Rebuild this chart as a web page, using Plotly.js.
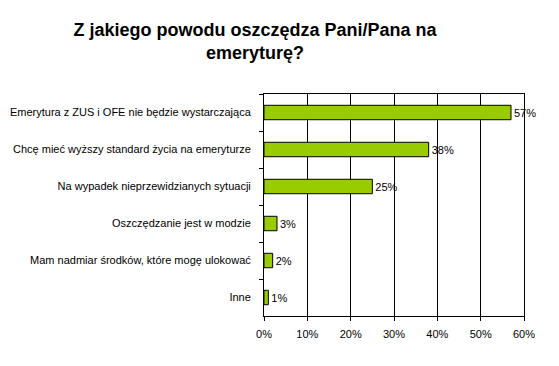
<!DOCTYPE html>
<html>
<head>
<meta charset="utf-8">
<script src="https://cdn.plot.ly/plotly-3.0.1.min.js"></script>
<style>html,body{margin:0;padding:0;background:#fff;}#chart{width:559px;height:366px;}</style>
</head>
<body>
<div id="chart"></div>
<script>
const categories = [
  "Emerytura z ZUS i OFE nie będzie wystarczająca",
  "Chcę mieć wyższy standard życia na emeryturze",
  "Na wypadek nieprzewidzianych sytuacji",
  "Oszczędzanie jest w modzie",
  "Mam nadmiar środków, które mogę ulokować",
  "Inne"
];
const values = [57, 38, 25, 3, 2, 1];
const valueLabels = ["57%", "38%", "25%", "3%", "2%", "1%"];
const xTickVals = [0, 10, 20, 30, 40, 50, 60];
const xTickText = ["0%", "10%", "20%", "30%", "40%", "50%", "60%"];

const trace = {
  type: "bar",
  orientation: "h",
  x: values,
  y: categories,
  text: valueLabels,
  textposition: "outside",
  cliponaxis: false,
  textfont: {family: "Liberation Sans, Arial, sans-serif", size: 11, color: "#000"},
  marker: {color: "#99cc00", line: {color: "#000", width: 1}},
  hoverinfo: "none"
};

const layout = {
  width: 559,
  height: 366,
  margin: {l: 264, r: 35, t: 94, b: 50},
  paper_bgcolor: "#fff",
  plot_bgcolor: "#fff",
  showlegend: false,
  bargap: 0.61,
  font: {family: "Liberation Sans, Arial, sans-serif", size: 11, color: "#000"},
  title: {
    text: "Z jakiego powodu oszczędza Pani/Pana na<br>emeryturę?",
    font: {family: "Liberation Sans, Arial, sans-serif", size: 18, color: "#000", weight: "bold"},
    xref: "container", x: 255/559, xanchor: "center",
    yref: "container", y: 1 - 36/366, yanchor: "top"
  },
  xaxis: {
    range: [0, 60],
    tickvals: xTickVals,
    ticktext: xTickText,
    showgrid: true,
    gridcolor: "#000",
    gridwidth: 1,
    showline: true,
    linecolor: "#000",
    linewidth: 1,
    mirror: true,
    ticks: "outside",
    ticklen: 4,
    tickcolor: "#000",
    ticklabelstandoff: 4,
    zeroline: false,
    fixedrange: true
  },
  yaxis: {
    autorange: "reversed",
    type: "category",
    showline: true,
    linecolor: "#000",
    linewidth: 1,
    mirror: true,
    ticks: "outside",
    tickson: "boundaries",
    ticklen: 4,
    tickcolor: "#000",
    showgrid: false,
    ticklabelstandoff: 10,
    fixedrange: true
  }
};

Plotly.newPlot("chart", [trace], layout, {staticPlot: true, displayModeBar: false});
</script>
</body>
</html>
